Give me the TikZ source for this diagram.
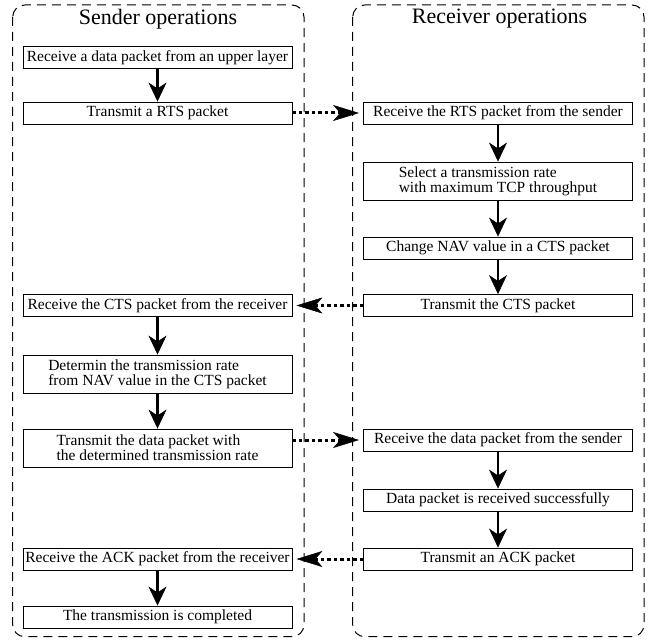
\documentclass[tikz,border=0pt]{standalone}
\usepackage{fontspec}
\setmainfont{Liberation Serif}
\usetikzlibrary{arrows.meta}

\begin{document}
\begin{tikzpicture}[x=1pt,y=-1pt]
        \tikzstyle{every node}+=[font=\fontsize{15.5}{15}\selectfont]
        \tikzstyle{opbox}=[draw, line width=0.9pt, minimum width=269pt, minimum height=22pt, inner sep=2pt, align=left]
        \tikzstyle{tallbox}=[opbox, minimum height=38pt]
        \tikzstyle{lane}=[dash pattern=on 9pt off 6pt, line width=1pt, rounded corners=12pt]
        \tikzstyle{lanetitle}=[font=\fontsize{22}{24}\selectfont]
        \tikzstyle{flow}=[line width=2.2pt, -{Stealth[length=19pt,width=18pt,inset=6pt,line width=0.5pt,fill=black]}]
        \tikzstyle{msg}=[line width=3pt, dash pattern=on 3.5pt off 3pt, shorten >=4pt, -{Stealth[length=26pt,width=16pt,inset=7pt,line width=0.5pt,fill=black]}]
        \useasboundingbox (0,0) rectangle (654,642);
        % lanes
        \draw [lane] (12.7,5) rectangle (304,636.7);
        \draw [lane] (352.7,5) rectangle (644,636.7);
        \node [lanetitle] (stitle) at (158,19) {Sender operations};
        \node [lanetitle] (rtitle) at (499.5,19) {Receiver operations};
        % sender side
        \node [opbox] (s1) at (157.5,57.5) {Receive a data packet from an upper layer};
        \node [opbox] (s2) at (157.5,113) {Transmit a RTS packet};
        \node [opbox] (s3) at (157.5,305.5) {Receive the CTS packet from the receiver};
        \node [tallbox] (s4) at (157.5,374) {Determin the transmission rate\\from NAV value in the CTS packet};
        \node [tallbox] (s5) at (157.5,448) {Transmit the data packet with\\the determined transmission rate};
        \node [opbox] (s6) at (157.5,559) {Receive the ACK packet from the receiver};
        \node [opbox] (s7) at (157.5,617) {The transmission is completed};
        % receiver side
        \node [opbox] (r1) at (498,113) {Receive the RTS packet from the sender};
        \node [tallbox] (r2) at (498,181) {Select a transmission rate\\with maximum TCP throughput};
        \node [opbox] (r3) at (498,248) {Change NAV value in a CTS packet};
        \node [opbox] (r4) at (498,305.5) {Transmit the CTS packet};
        \node [opbox] (r5) at (498,440) {Receive the data packet from the sender};
        \node [opbox] (r6) at (498,500) {Data packet is received successfully};
        \node [opbox] (r7) at (498,559) {Transmit an ACK packet};
        % steps
        \draw [flow] (s1) -- (s2);
        \draw [flow] (s3) -- (s4);
        \draw [flow] (s4) -- (s5);
        \draw [flow] (s6) -- (s7);
        \draw [flow] (r1) -- (r2);
        \draw [flow] (r2) -- (r3);
        \draw [flow] (r3) -- (r4);
        \draw [flow] (r5) -- (r6);
        \draw [flow] (r6) -- (r7);
        % messages
        \draw [msg] (s2) -- (r1);
        \draw [msg] (r4) -- (s3);
        \draw [msg] (s5.east |- r5) -- (r5);
        \draw [msg] (r7) -- (s6);
\end{tikzpicture}
\end{document}
